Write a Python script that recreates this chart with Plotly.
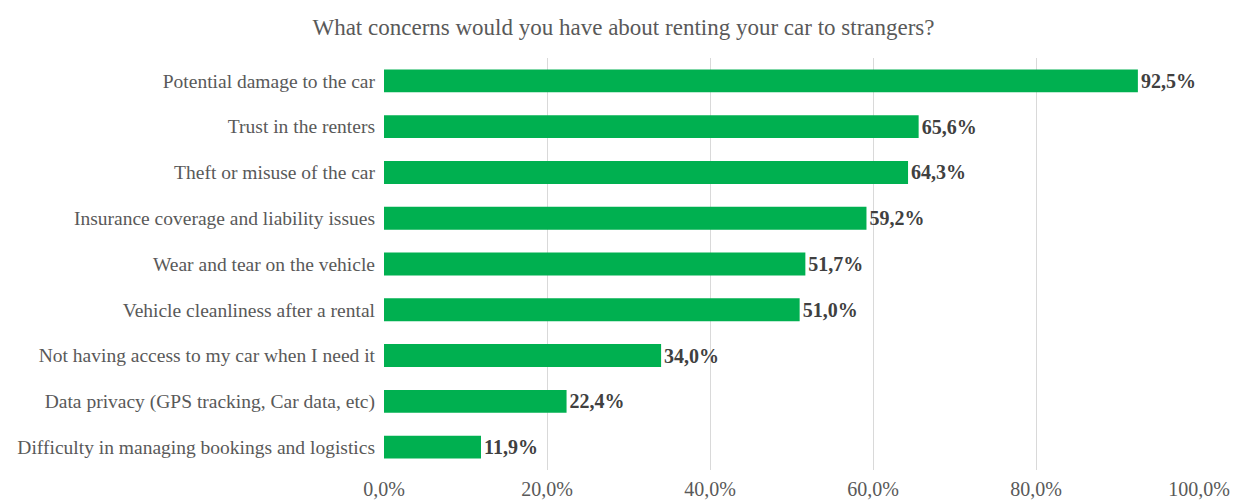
import plotly.graph_objects as go

categories = [
    "Potential damage to the car",
    "Trust in the renters",
    "Theft or misuse of the car",
    "Insurance coverage and liability issues",
    "Wear and tear on the vehicle",
    "Vehicle cleanliness after a rental",
    "Not having access to my car when I need it",
    "Data privacy (GPS tracking, Car data, etc)",
    "Difficulty in managing bookings and logistics",
]
values = [92.5, 65.6, 64.3, 59.2, 51.7, 51.0, 34.0, 22.4, 11.9]
tick_values = [0, 20, 40, 60, 80, 100]
tick_labels = ["0,0%", "20,0%", "40,0%", "60,0%", "80,0%", "100,0%"]
title_text = "What concerns would you have about renting your car to strangers?"

labels = [f"{v:.1f}".replace(".", ",") + "%" for v in values]

fig = go.Figure(
    go.Bar(
        y=categories,
        x=values,
        orientation="h",
        marker=dict(color="#00B050", line=dict(width=0)),
        width=0.5,
        text=labels,
        textposition="outside",
        textfont=dict(family="Liberation Serif", size=20, color="#404040", weight="bold"),
        cliponaxis=False,
    )
)

# page body has an 8px default margin, so the figure is sized to fit the window
fig.update_layout(
    width=1231,
    height=496,
    paper_bgcolor="white",
    plot_bgcolor="white",
    margin=dict(l=376, r=40, t=50, b=34, autoexpand=False),
    title=dict(
        text=title_text,
        x=0.5,
        xanchor="center",
        y=0.962,
        yanchor="middle",
        automargin=False,
        font=dict(family="Liberation Serif", size=23, color="#595959"),
    ),
    showlegend=False,
    font=dict(family="Liberation Serif", color="#595959"),
)

fig.update_xaxes(
    range=[0, 100],
    tickvals=tick_values,
    ticktext=tick_labels,
    showgrid=True,
    gridcolor="#D9D9D9",
    gridwidth=1,
    zeroline=False,
    showline=False,
    ticks="",
    automargin=False,
    tickfont=dict(family="Liberation Serif", size=20, color="#595959"),
    ticklabelstandoff=5,
)
fig.update_yaxes(
    autorange="reversed",
    categoryorder="array",
    categoryarray=categories,
    showgrid=False,
    showline=False,
    ticks="",
    automargin=False,
    ticklabelstandoff=8,
    tickfont=dict(family="Liberation Serif", size=19.5, color="#595959"),
)

fig.write_html("out.html")
